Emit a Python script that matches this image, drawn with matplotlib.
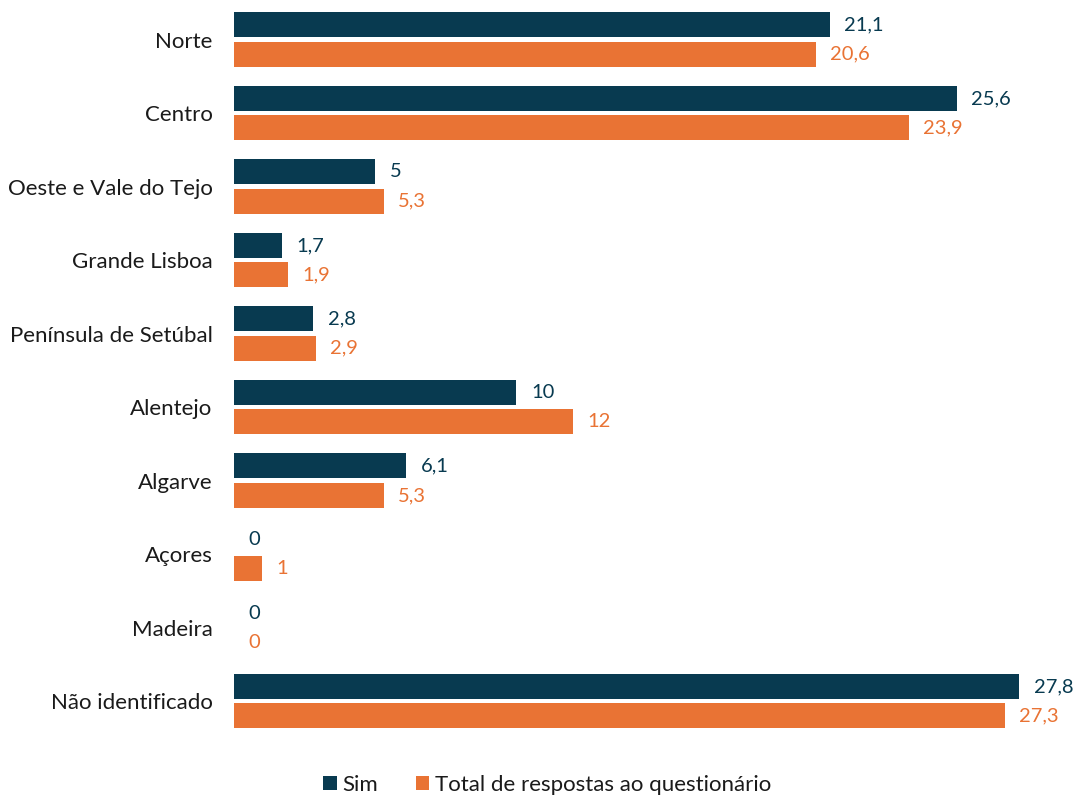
import matplotlib
matplotlib.use("Agg")
import matplotlib.pyplot as plt
import numpy as np

plt.rcParams['font.family'] = ['Lato', 'DejaVu Sans']

categories = ["Norte", "Centro", "Oeste e Vale do Tejo", "Grande Lisboa",
              "Península de Setúbal", "Alentejo", "Algarve", "Açores",
              "Madeira", "Não identificado"]
sim = [21.1, 25.6, 5.0, 1.7, 2.8, 10.0, 6.1, 0.0, 0.0, 27.8]
total = [20.6, 23.9, 5.3, 1.9, 2.9, 12.0, 5.3, 1.0, 0.0, 27.3]
series_names = ["Sim", "Total de respostas ao questionário"]

c_sim = "#083a50"
c_tot = "#e97334"

def fmt(v):
    s = f"{v:.1f}".replace(".", ",")
    return s[:-2] if s.endswith(",0") else s

fig = plt.figure(figsize=(10.73, 8.0), dpi=100)
ax = fig.add_axes([0.218, 0.0775, 0.7764, 0.919])

y = np.arange(len(categories))
h = 0.34
off = 0.2
b1 = ax.barh(y - off, sim, height=h, color=c_sim, label=series_names[0])
b2 = ax.barh(y + off, total, height=h, color=c_tot, label=series_names[1])

for bars, vals, col in ((b1, sim, c_sim), (b2, total, c_tot)):
    for rect, v in zip(bars, vals):
        ax.annotate(fmt(v), xy=(v, rect.get_y() + rect.get_height() / 2),
                    xytext=(10.5, 0), textcoords="offset points",
                    ha="left", va="center", fontsize=14.5, color=col)

ax.set_xlim(0, 29.5)
ax.set_ylim(len(categories) - 0.5, -0.5)
ax.set_yticks(y)
ax.set_yticklabels(categories, fontsize=16, color="#1a1a1a")
ax.tick_params(axis="y", length=0, pad=15.5)
ax.set_xticks([])
for s in ax.spines.values():
    s.set_visible(False)

fig.legend(handles=[b1, b2], loc="center", bbox_to_anchor=(0.51, 0.019),
           ncol=2, frameon=False, fontsize=16, handlelength=0.6,
           handleheight=0.6, handletextpad=0.25, columnspacing=1.7,
           labelcolor="#1a1a1a")

fig.savefig("out.png", dpi=100)
